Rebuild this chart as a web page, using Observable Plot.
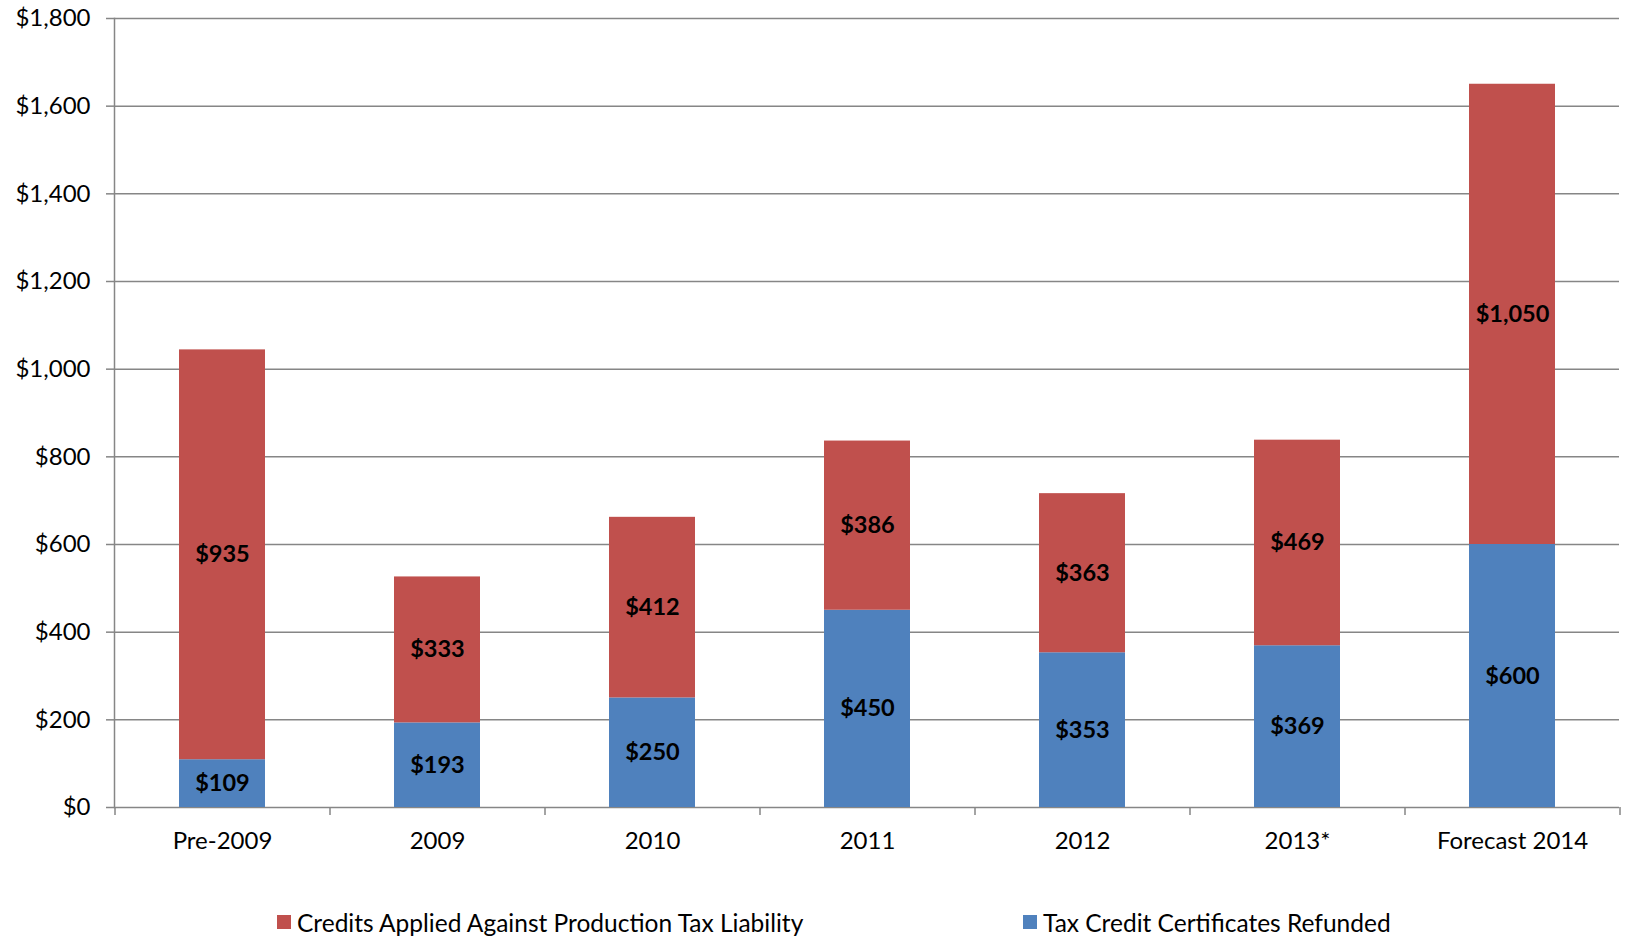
<!DOCTYPE html>
<html><head><meta charset="utf-8">
<script src="https://cdn.jsdelivr.net/npm/d3@7"></script>
<script src="https://cdn.jsdelivr.net/npm/@observablehq/plot@0.6"></script>
<style>
body{margin:0;background:#fff;font-family:Lato,"Noto Sans",sans-serif;}
#wrap{position:relative;width:1625px;height:937px;overflow:hidden;}
.item{position:absolute;top:907px;height:30px;display:flex;align-items:center;font-size:24.5px;color:#000;white-space:nowrap;}
.sw{width:14px;height:14px;display:inline-block;margin-right:6px;}
</style></head><body><div id="wrap"></div>
<script>
const categories = ["Pre-2009","2009","2010","2011","2012","2013*","Forecast 2014"];
const refunded = [109,193,250,450,353,369,600];
const applied = [935,333,412,386,363,469,1050];
const seriesNames = ["Tax Credit Certificates Refunded","Credits Applied Against Production Tax Liability"];
const seriesColors = ["#4F81BD","#C0504D"];
const yTicks = [0,200,400,600,800,1000,1200,1400,1600,1800];
const legendOrder = ["Credits Applied Against Production Tax Liability","Tax Credit Certificates Refunded"];

const data = [];
categories.forEach((c,i)=>{
  data.push({cat:c, series:seriesNames[0], value:refunded[i]});
  data.push({cat:c, series:seriesNames[1], value:applied[i]});
});
const fmt = d => "$" + d3.format(",")(d);

const W = 1625, H = 870, ML = 114, MR = 6, MT = 18, MB = 63;
const half = (W - ML - MR) / categories.length / 2;
const grid = "#868686";

const chart = Plot.plot({
  width: W, height: H,
  marginLeft: ML, marginRight: MR, marginTop: MT, marginBottom: MB,
  style: {fontFamily: "Lato, 'Noto Sans', sans-serif", fontSize: "24px", color: "#000", background: "#fff", overflow: "visible"},
  x: {domain: categories, paddingInner: 0.6, paddingOuter: 0.3, axis: null},
  y: {domain: [0, 1800], axis: null},
  color: {domain: seriesNames, range: seriesColors},
  marks: [
    Plot.ruleY(yTicks, {stroke: grid, strokeWidth: 1.5}),
    Plot.barY(data, {x: "cat", y: "value", fill: "series"}),
    Plot.text(data, Plot.stackY({x: "cat", y: "value", z: "series", text: d => fmt(d.value), fontWeight: "bold", fontSize: 23.5, fill: "#000"})),
    Plot.frame({anchor: "left", stroke: grid, strokeWidth: 1.5}),
    Plot.axisY({ticks: yTicks, tickSize: 8, tickPadding: 16, tickFormat: fmt, stroke: grid, strokeWidth: 1.5, fontSize: 24, label: null}),
    Plot.axisX({tickSize: 8, dx: half, tickFormat: () => "", stroke: grid, strokeWidth: 1.5, label: null}),
    Plot.axisX({ticks: [categories[0]], tickSize: 8, dx: -half, tickFormat: () => "", stroke: grid, strokeWidth: 1.5, label: null}),
    Plot.axisX({tickSize: 0, tickPadding: 24, fontSize: 24, label: null})
  ]
});
const wrap = document.getElementById("wrap");
wrap.appendChild(chart);

const legendX = [277, 1023];
legendOrder.forEach((name, i) => {
  const it = document.createElement("div");
  it.className = "item";
  it.style.left = legendX[i] + "px";
  const sw = document.createElement("span");
  sw.className = "sw";
  sw.style.background = seriesColors[seriesNames.indexOf(name)];
  it.appendChild(sw);
  it.appendChild(document.createTextNode(name));
  wrap.appendChild(it);
});
</script></body></html>
